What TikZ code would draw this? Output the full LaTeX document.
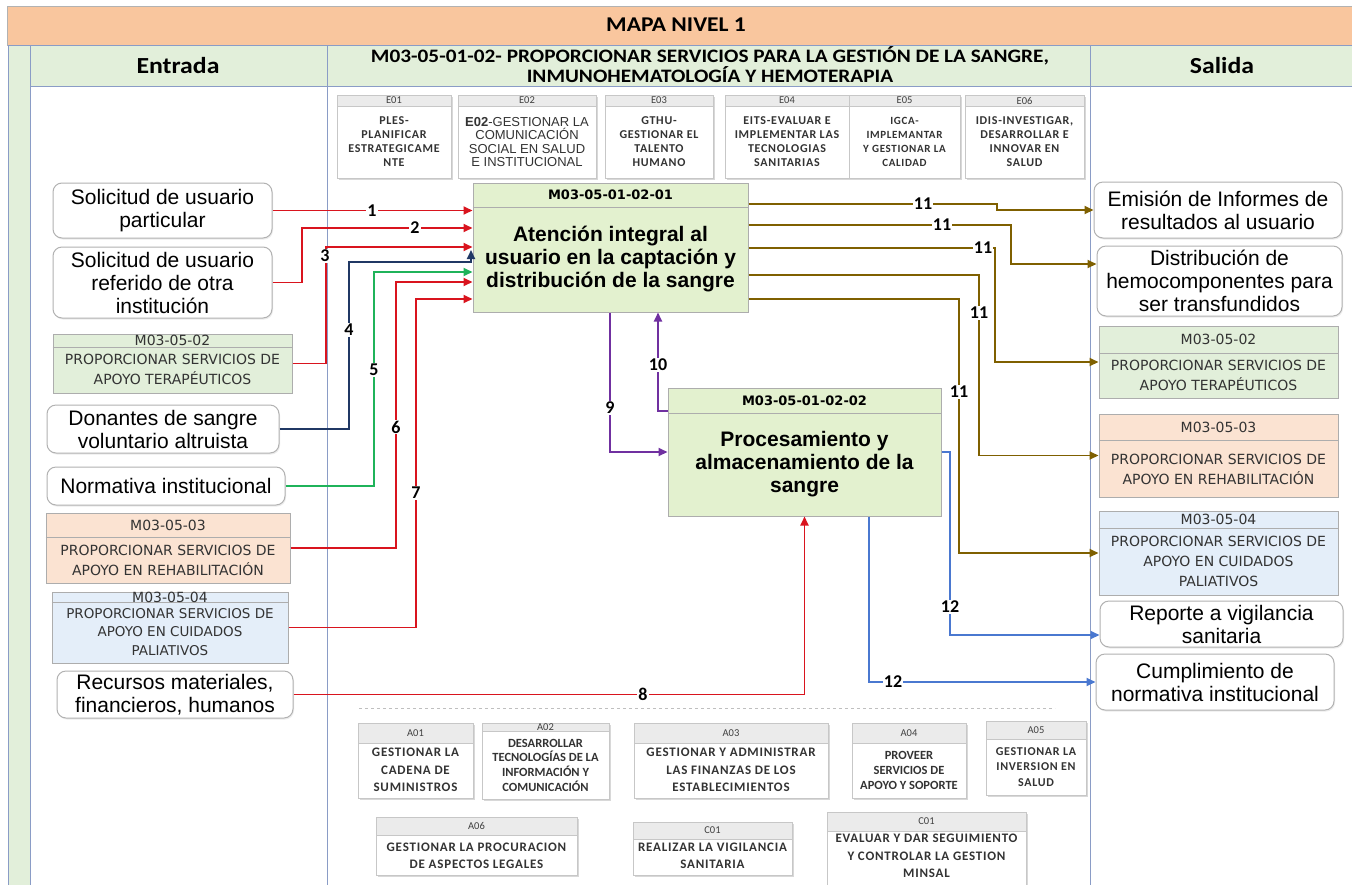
\documentclass[tikz,border=0pt]{standalone}
\usepackage{fontspec}
\setmainfont{Liberation Sans}
\newfontfamily\calf{Carlito}
\newfontfamily\calw{Carlito}[FakeStretch=1.12]
\newfontfamily\calsp{Carlito}[LetterSpace=6]
\newfontfamily\verd{DejaVu Sans}
\usetikzlibrary{arrows.meta,shadows,fit}

\definecolor{hdrorange}{HTML}{F9C69E}
\definecolor{hdrgreen}{HTML}{E2EFDA}
\definecolor{divline}{HTML}{8A9CC6}
\definecolor{gfill}{HTML}{E2EFDA}
\definecolor{ofill}{HTML}{FBE3D2}
\definecolor{bfill}{HTML}{E4EEF9}
\definecolor{mfill}{HTML}{E3F1CF}
\definecolor{cred}{HTML}{D9141E}
\definecolor{cnavy}{HTML}{203864}
\definecolor{cgreen}{HTML}{1FB35A}
\definecolor{cbrown}{HTML}{7F6000}
\definecolor{cpurple}{HTML}{7030A0}
\definecolor{cblue}{HTML}{4A78D0}

\tikzset{
 rbox/.style={draw=black!30, line width=1pt, rounded corners=9pt, fill=white, inner sep=0pt, align=center, font=\fontsize{21}{23}\selectfont, drop shadow={shadow xshift=1pt, shadow yshift=-1.5pt, opacity=0.15}},
 cbox/.style={draw=black!32, line width=1pt, inner sep=0pt},
 mbox/.style={draw=black!32, line width=1pt, fill=mfill, inner sep=0pt},
 hline/.style={draw=black!32, line width=1pt},
 ttl/.style={inner sep=0pt, font=\verd\fontsize{14}{16}\selectfont, text=black!80},
 bdy/.style={inner sep=0pt, align=center, font=\verd\fontsize{14}{20}\selectfont, text=black!80},
 mttl/.style={inner sep=0pt, font=\verd\bfseries\fontsize{13}{15}\selectfont},
 mbdy/.style={inner sep=0pt, align=center, font=\bfseries\fontsize{21}{23}\selectfont},
 ebox/.style={draw=black!22, line width=0.8pt, fill=white, inner sep=0pt, drop shadow={shadow xshift=1.5pt, shadow yshift=-1.5pt, opacity=0.3}},
 estrip/.style={draw=black!22, line width=0.8pt, fill=black!8},
 etl/.style={inner sep=0pt, font=\calf\fontsize{10.5}{12}\selectfont, text=black!75},
 ebd/.style={inner sep=0pt, align=center, font=\calsp\bfseries\fontsize{12}{14}\selectfont, text=black!80},
 abd/.style={ebd, font=\calsp\bfseries\fontsize{13}{17.5}\selectfont},
 conn/.style={line width=1.8pt, -{Triangle[length=9pt,width=8pt]}},
 lbl/.style={fill=white, inner sep=1pt, font=\calf\bfseries\fontsize{18}{18}\selectfont},
 hdr/.style={inner sep=0pt, align=center, font=\calw\bfseries\fontsize{23}{24}\selectfont},
 e2sty/.style={font=\fontsize{13}{13.5}\selectfont},
 e5sty/.style={font=\calsp\bfseries\fontsize{11}{14}\selectfont},
 a1sty/.style={abd}, a3sty/.style={abd}, a6sty/.style={abd}, c1sty/.style={abd}, c2sty/.style={abd},
 a2sty/.style={abd, font=\calf\bfseries\fontsize{12.5}{14.7}\selectfont},
 a4sty/.style={abd, font=\calf\bfseries\fontsize{12.5}{15}\selectfont},
 a5sty/.style={abd, font=\calsp\bfseries\fontsize{12}{15.5}\selectfont},
}

\newcommand\smbox[9]{%
 \node[ebox, fit={(#2,#3) (#4,#5)}] (#1) {};
 \path[estrip] (#2,#3) rectangle (#4,#6);
 \node[etl] (#1t) at ({(#2+#4)/2},{(#3+#6)/2}) {#7};
 \node[ebd, #1sty/.try] (#1b) at ({(#2+#4)/2},#8) {#9};
}

\begin{document}
\begin{tikzpicture}[x=1pt,y=-1pt]
\useasboundingbox (0,0) rectangle (1352,884);
\fill[white] (0,0) rectangle (1352,884);

% frame
\path[fill=hdrorange, draw=black!30, line width=0.8pt] (7,6) rectangle (1352,45);
\path[fill=hdrgreen, draw=divline, line width=0.8pt] (8,45) rectangle (30,890);
\path[fill=hdrgreen, draw=divline, line width=0.8pt] (30,45) rectangle (1352,86);
\draw[divline, line width=1pt] (327,45) -- (327,890);
\draw[divline, line width=1pt] (1090,45) -- (1090,890);

\node[hdr, font=\calw\bfseries\fontsize{21}{22}\selectfont] (maptitle) at (676,25) {MAPA NIVEL 1};
\node[hdr] (hdrin) at (178,66) {Entrada};
\node[hdr, font=\calw\bfseries\fontsize{19}{20}\selectfont] (hdrmid) at (710,65) {M03-05-01-02- PROPORCIONAR SERVICIOS PARA LA GESTIÓN DE LA SANGRE,\\INMUNOHEMATOLOGÍA Y HEMOTERAPIA};
\node[hdr] (hdrout) at (1222,66) {Salida};

% top E boxes
\smbox{e1}{337}{95}{451}{178}{106}{E01}{142}{PLES-\\PLANIFICAR\\ESTRATEGICAME\\NTE}
\smbox{e2}{458}{95}{596}{178}{106}{E02}{142}{\textbf{E02}-GESTIONAR LA\\COMUNICACIÓN\\SOCIAL EN SALUD\\E INSTITUCIONAL}
\smbox{e3}{605}{95}{713}{178}{106}{E03}{142}{GTHU-\\GESTIONAR EL\\TALENTO\\HUMANO}
\smbox{e4}{725}{95}{849}{178}{106}{E04}{142}{EITS-EVALUAR E\\IMPLEMENTAR LAS\\TECNOLOGIAS\\SANITARIAS}
\smbox{e5}{849}{95}{960}{178}{106}{E05}{142}{IGCA-\\IMPLEMANTAR\\Y GESTIONAR LA\\CALIDAD}
\smbox{e6}{965}{95}{1084}{178}{106}{E06}{142}{IDIS-INVESTIGAR,\\DESARROLLAR E\\INNOVAR EN\\SALUD}

% bottom A / C boxes
\draw[black!25, dashed, line width=0.8pt] (359,708) -- (1055,708);
\smbox{a1}{358}{723}{473}{798}{743}{A01}{770}{GESTIONAR LA\\CADENA DE\\SUMINISTROS}
\smbox{a2}{482}{723}{609}{799}{731}{A02}{765}{DESARROLLAR\\TECNOLOGÍAS DE LA\\INFORMACIÓN Y\\COMUNICACIÓN}
\smbox{a3}{634}{723}{828}{798}{743}{A03}{770}{GESTIONAR Y ADMINISTRAR\\LAS FINANZAS DE LOS\\ESTABLECIMIENTOS}
\smbox{a4}{852}{723}{966}{798}{743}{A04}{770.5}{PROVEER\\SERVICIOS DE\\APOYO Y SOPORTE}
\smbox{a5}{986}{721}{1086}{795}{739}{A05}{767}{GESTIONAR LA\\INVERSION EN\\SALUD}
\smbox{a6}{376}{817}{577}{875}{835}{A06}{856}{GESTIONAR LA PROCURACION\\DE ASPECTOS LEGALES}
\smbox{c1}{633}{822}{792}{875}{839}{C01}{856}{REALIZAR LA VIGILANCIA\\SANITARIA}
\smbox{c2}{827}{812}{1026}{892}{831}{C01}{856}{EVALUAR Y DAR SEGUIMIENTO\\Y CONTROLAR LA GESTION\\MINSAL}

% main boxes
\node[mbox, fit={(473,183) (748,312)}] (m1) {};
\draw[hline] (m1.west |- 0,207) -- (m1.east |- 0,207);
\node[mttl] (m1t) at (610.5,195) {M03-05-01-02-01};
\node[mbdy] (m1b) at (610.5,259) {Atención integral al\\usuario en la captación y\\distribución de la sangre};

\node[mbox, fit={(668,388) (941,516)}] (m2) {};
\draw[hline] (m2.west |- 0,413) -- (m2.east |- 0,413);
\node[mttl] (m2t) at (804.5,400.5) {M03-05-01-02-02};
\node[mbdy] (m2b) at (804.5,464.5) {Procesamiento y\\almacenamiento de la\\sangre};

% left inputs
\node[rbox, minimum width=219pt, minimum height=55pt] (in1) at (162.5,210.5) {Solicitud de usuario\\particular};
\node[rbox, minimum width=219pt, minimum height=71pt] (in2) at (162.5,282.5) {Solicitud de usuario\\referido de otra\\institución};
\node[cbox, fill=gfill, fit={(53,334) (292,393)}] (in3) {};
\draw[hline] (in3.west |- 0,347) -- (in3.east |- 0,347);
\node[ttl] (in3t) at (172.5,340.5) {M03-05-02};
\node[bdy] (in3b) at (172.5,369.5) {PROPORCIONAR SERVICIOS DE\\APOYO TERAPÉUTICOS};
\node[rbox, minimum width=232pt, minimum height=48pt] (in4) at (163,429) {Donantes de sangre\\voluntario altruista};
\node[rbox, minimum width=238pt, minimum height=38pt] (in5) at (166,486) {Normativa institucional};
\node[cbox, fill=ofill, fit={(46,513) (290,583)}] (in6) {};
\draw[hline] (in6.west |- 0,537) -- (in6.east |- 0,537);
\node[ttl] (in6t) at (168,525) {M03-05-03};
\node[bdy] (in6b) at (168,560.5) {PROPORCIONAR SERVICIOS DE\\APOYO EN REHABILITACIÓN};
\node[cbox, fill=bfill, fit={(52,592) (288,663)}] (in7) {};
\draw[hline] (in7.west |- 0,602) -- (in7.east |- 0,602);
\node[ttl] (in7t) at (170,597) {M03-05-04};
\node[bdy, font=\verd\fontsize{13.5}{18.5}\selectfont] (in7b) at (170,632) {PROPORCIONAR SERVICIOS DE\\APOYO EN CUIDADOS\\PALIATIVOS};
\node[rbox, minimum width=236pt, minimum height=47pt] (in8) at (175,694.5) {Recursos materiales,\\financieros, humanos};

% right outputs
\node[rbox, minimum width=248pt, minimum height=56pt] (out1) at (1218,210) {Emisión de Informes de\\resultados al usuario};
\node[rbox, minimum width=245pt, minimum height=70pt] (out2) at (1219.5,281) {Distribución de\\hemocomponentes para\\ser transfundidos};
\node[cbox, fill=gfill, fit={(1099,326) (1338,398)}] (out3) {};
\draw[hline] (out3.west |- 0,353) -- (out3.east |- 0,353);
\node[ttl] (out3t) at (1218.5,339.5) {M03-05-02};
\node[bdy] (out3b) at (1218.5,375.5) {PROPORCIONAR SERVICIOS DE\\APOYO TERAPÉUTICOS};
\node[cbox, fill=ofill, fit={(1099,414) (1338,497)}] (out4) {};
\draw[hline] (out4.west |- 0,440) -- (out4.east |- 0,440);
\node[ttl] (out4t) at (1218.5,427) {M03-05-03};
\node[bdy] (out4b) at (1218.5,469) {PROPORCIONAR SERVICIOS DE\\APOYO EN REHABILITACIÓN};
\node[cbox, fill=bfill, fit={(1099,511) (1338,595)}] (out5) {};
\draw[hline] (out5.west |- 0,528) -- (out5.east |- 0,528);
\node[ttl] (out5t) at (1218.5,519.5) {M03-05-04};
\node[bdy] (out5b) at (1218.5,561.5) {PROPORCIONAR SERVICIOS DE\\APOYO EN CUIDADOS\\PALIATIVOS};
\node[rbox, minimum width=243pt, minimum height=46pt] (out6) at (1221.5,624) {Reporte a vigilancia\\sanitaria};
\node[rbox, minimum width=238pt, minimum height=56pt] (out7) at (1215,682) {Cumplimiento de\\normativa institucional};

% input connectors
\draw[conn, cred] (in1.east) -- (in1.east -| m1.west);
\draw[conn, cred] (in2.east) -| (302,228) -- (m1.west |- 0,228);
\draw[conn, cred] (in3.east) -| (326,247) -- (m1.west |- 0,247);
\draw[conn, cnavy] (in4.east) -| (349,262) -| (471,250);
\draw[conn, cgreen] (in5.east) -| (374,272) -- (m1.west |- 0,272);
\draw[conn, cred] (in6.east) -| (396,282) -- (m1.west |- 0,282);
\draw[conn, cred] (in7.east) -| (416,299) -- (m1.west |- 0,299);
\draw[conn, cred] (in8.east) -| (m2.south);

% outputs of m1
\draw[conn, cbrown] (m1.east |- 0,204) -- (997,204) -- (997,210) -- (out1.west);
\draw[conn, cbrown] (m1.east |- 0,225) -| (1011,264) -- (out2.west |- 0,264);
\draw[conn, cbrown] (m1.east |- 0,248) -| (995,362) -- (out3.west);
\draw[conn, cbrown] (m1.east |- 0,275) -| (979,455.5) -- (out4.west);
\draw[conn, cbrown] (m1.east |- 0,299) -| (959,553) -- (out5.west);

% between m1 and m2
\draw[conn, cpurple] (m1.south -| 610,0) |- (m2.west);
\draw[conn, cpurple] (m2.west |- 0,411) -| (m1.south -| 658,0);

% outputs of m2
\draw[conn, cblue] (m2.east) -| (950,635) -- (out6.west |- 0,635);
\draw[conn, cblue] (m2.south -| 869,0) |- (out7.west);

% labels
\node[lbl] (l1) at (372,210.5) {1};
\node[lbl] (l2) at (415,228) {2};
\node[lbl] (l3) at (325,256) {3};
\node[lbl] (l4) at (349,330) {4};
\node[lbl] (l5) at (374,370) {5};
\node[lbl] (l6) at (396,427) {6};
\node[lbl] (l7) at (416,493) {7};
\node[lbl] (l8) at (643,694.5) {8};
\node[lbl] (l9) at (610,408) {9};
\node[lbl] (l10) at (658,365) {10};
\node[lbl] (l11a) at (923,204) {11};
\node[lbl] (l11b) at (942,225) {11};
\node[lbl] (l11c) at (983,248) {11};
\node[lbl] (l11d) at (979,313) {11};
\node[lbl] (l11e) at (959,392) {11};
\node[lbl] (l12a) at (950,607) {12};
\node[lbl] (l12b) at (893,682) {12};
\end{tikzpicture}
\end{document}
